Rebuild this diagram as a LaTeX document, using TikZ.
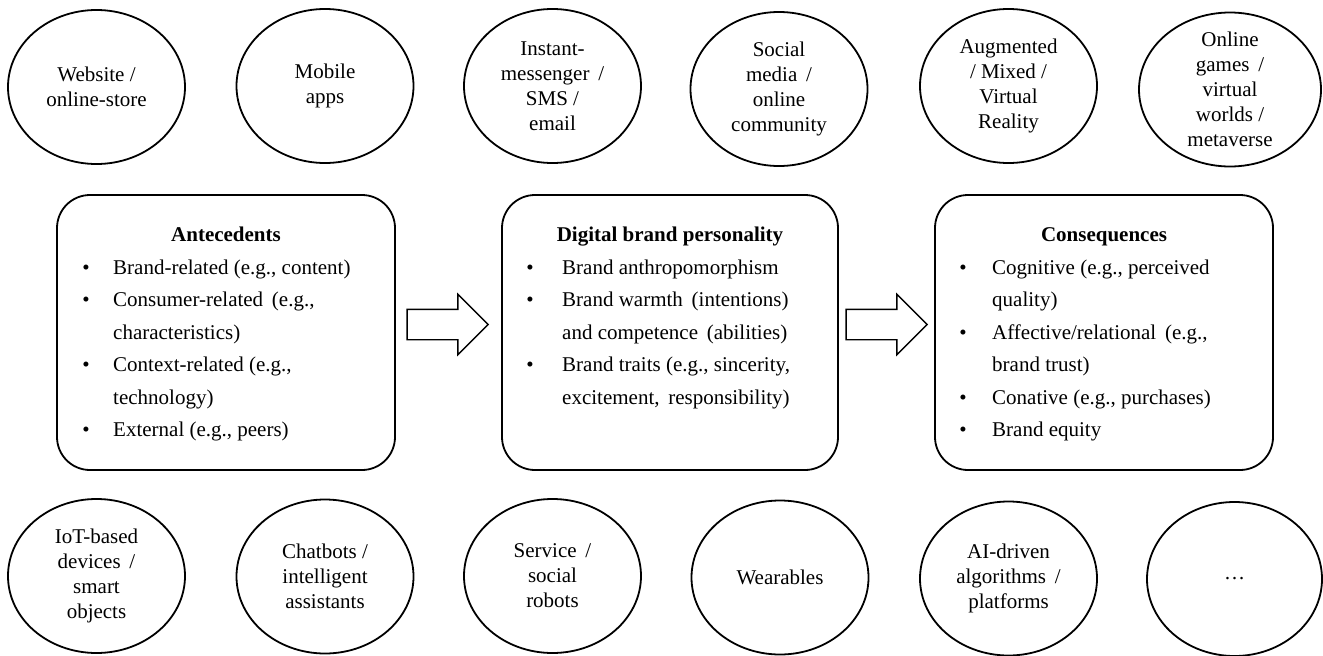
\documentclass[tikz,border=0pt]{standalone}
\usepackage{fontspec}
\setmainfont{Liberation Serif}
\usetikzlibrary{shapes.geometric,shapes.arrows,calc}
\begin{document}
\begin{tikzpicture}[x=1pt,y=-1pt,
  oval/.style={draw, ellipse, line width=1.8pt, minimum width=177pt, minimum height=154pt, inner sep=0pt},
  ovaltext/.style={align=center, font=\fontsize{21}{25}\selectfont, inner sep=0pt},
  panel/.style={draw, rectangle, rounded corners=33pt, line width=1.8pt, minimum width=338pt, minimum height=275pt, inner sep=0pt},
  ptitle/.style={font=\fontsize{21}{25}\selectfont\bfseries, anchor=base, inner sep=0pt},
  item/.style={font=\fontsize{21}{25}\selectfont, anchor=base west, inner sep=0pt},
  bul/.style={font=\fontsize{21}{25}\selectfont, anchor=base, inner sep=0pt},
  flow/.style={draw, single arrow, line width=1.4pt, minimum height=81pt, minimum width=59pt, single arrow head extend=15pt, inner xsep=0pt, inner ysep=14.5pt}
]
\useasboundingbox (0,0) rectangle (1323,656);

% top ellipses
\node[oval] (w1) at (96.5,87) {};
\node[ovaltext] (tw1) at (w1.center) {Website /\\online-store};
\node[oval] (w2) at (325,86) {};
\node[ovaltext] (tw2) at (w2.center) {Mobile\\apps};
\node[oval] (w3) at (552.5,86) {};
\node[ovaltext] (tw3) at (w3.center) {Instant-\\messenger \,/\\SMS /\\email};
\node[oval] (w4) at (779,89) {};
\node[ovaltext] (tw4) at (w4.center) {Social\\media \,/\\online\\community};
\node[oval] (w5) at (1008.5,86) {};
\node[ovaltext] (tw5) at (w5.center) {Augmented\\/ Mixed /\\Virtual\\Reality};
\node[oval, minimum width=182pt] (w6) at (1230,89.5) {};
\node[ovaltext] (tw6) at (w6.center) {Online\\games \,/\\virtual\\worlds /\\metaverse};

% bottom ellipses
\node[oval] (b1) at (96.5,576) {};
\node[ovaltext] (tb1) at (b1.center) {IoT-based\\devices \,/\\smart\\objects};
\node[oval] (b2) at (325,576.5) {};
\node[ovaltext] (tb2) at (b2.center) {Chatbots /\\intelligent\\assistants};
\node[oval] (b3) at (552.5,576) {};
\node[ovaltext] (tb3) at (b3.center) {Service \,/\\social\\robots};
\node[oval] (b4) at (780,577.5) {};
\node[ovaltext] (tb4) at (b4.center) {Wearables};
\node[oval] (b5) at (1008.5,578.5) {};
\node[ovaltext] (tb5) at (b5.center) {AI-driven\\algorithms \,/\\platforms};
\node[oval, minimum width=175pt] (b6) at (1234.5,579) {};
\node[ovaltext] (tb6) at (b6.center) {…};

% panels
\node[panel] (ante) at (226,332.5) {};
\node[panel, minimum width=336pt] (dig) at (670,332.5) {};
\node[panel] (cons) at (1104,332.5) {};

% Antecedents
\node[ptitle] (at) at (226,241) {Antecedents};
\node[bul] (ab1) at (86,274) {•};
\node[item] (ai1) at (113,274) {Brand-related (e.g., content)};
\node[bul] (ab2) at (86,306.5) {•};
\node[item] (ai2) at (113,306.5) {Consumer-related \,(e.g.,};
\node[item] (ai3) at (113,339) {characteristics)};
\node[bul] (ab4) at (86,371.5) {•};
\node[item] (ai4) at (113,371.5) {Context-related (e.g.,};
\node[item] (ai5) at (113,404) {technology)};
\node[bul] (ab6) at (86,436.5) {•};
\node[item] (ai6) at (113,436.5) {External (e.g., peers)};

% Digital brand personality
\node[ptitle] (dt) at (670,241) {Digital brand personality};
\node[bul] (db1) at (530,274) {•};
\node[item] (di1) at (562,274) {Brand anthropomorphism};
\node[bul] (db2) at (530,306.5) {•};
\node[item] (di2) at (562,306.5) {Brand warmth \,(intentions)};
\node[item] (di3) at (562,339) {and competence \,(abilities)};
\node[bul] (db4) at (530,371.5) {•};
\node[item] (di4) at (562,371.5) {Brand traits (e.g., sincerity,};
\node[item] (di5) at (562,404) {excitement, \,responsibility)};

% Consequences
\node[ptitle] (ct) at (1104,241) {Consequences};
\node[bul] (cb1) at (963,274) {•};
\node[item] (ci1) at (992,274) {Cognitive (e.g., perceived};
\node[item] (ci2) at (992,306.5) {quality)};
\node[bul] (cb3) at (963,339) {•};
\node[item] (ci3) at (992,339) {Affective/relational \,(e.g.,};
\node[item] (ci4) at (992,371.5) {brand trust)};
\node[bul] (cb5) at (963,404) {•};
\node[item] (ci5) at (992,404) {Conative (e.g., purchases)};
\node[bul] (cb6) at (963,436.5) {•};
\node[item] (ci6) at (992,436.5) {Brand equity};

% block arrows
\node[flow, xshift=-8.5pt, yshift=8pt] (ar1) at ($(ante.east)!0.5!(dig.west)$) {};
\node[flow, xshift=-7.5pt, yshift=8pt] (ar2) at ($(dig.east)!0.5!(cons.west)$) {};
\end{tikzpicture}
\end{document}
